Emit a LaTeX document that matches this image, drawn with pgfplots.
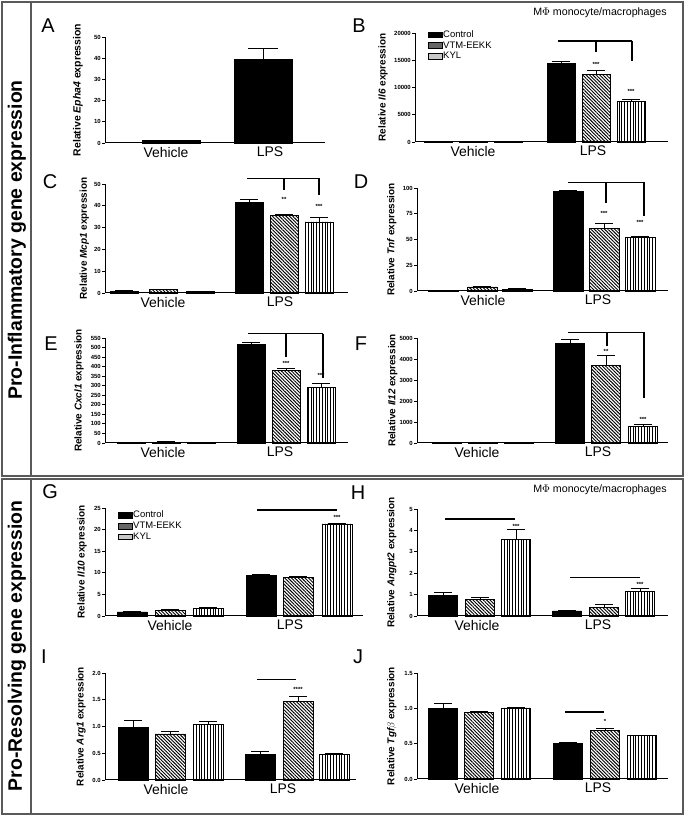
\documentclass[border=0pt]{standalone}
\usepackage{fontspec}
\setmainfont{Liberation Sans}
\usepackage{pgfplots}
\pgfplotsset{compat=1.18}
\usetikzlibrary{patterns.meta}

\pgfplotsset{
  ctrl/.style={ybar, bar shift=0pt, fill=black, draw=black, line width=0.8bp},
  vtm/.style={ybar, bar shift=0pt, draw=black, line width=0.8bp,
     pattern={Lines[angle=-45,distance=2.4bp,line width=0.95bp]}},
  kyl/.style={ybar, bar shift=0pt, draw=black, line width=0.8bp,
     pattern={Lines[angle=90,distance=2.8bp,line width=0.6bp]}},
  yl/.style={every axis y label/.style={at={(axis description cs:#1,0.5)},rotate=90,anchor=center,
     font=\fontsize{10}{11}\selectfont\bfseries}},
  prism/.style={
    scale only axis, anchor=south west, clip=false,
    axis x line*=bottom, axis y line*=left,
    axis line style={-, line width=1bp, black},
    xmin=0, ymin=0, enlargelimits=false,
    tick align=outside, major tick length=3bp,
    xtick style={draw=none}, ytick style={line width=0.9bp, black},
    yticklabel style={font=\fontsize{6}{7}\selectfont\bfseries, inner sep=1bp},
    xticklabel style={font=\fontsize{14}{15}\selectfont, inner sep=1bp},
    /pgf/number format/assume math mode=true,
    /pgf/number format/1000 sep={},
    scaled y ticks=false,
    error bars/y dir=plus, error bars/y explicit,
    error bars/error bar style={line width=0.9bp, black, solid},
    error bars/error mark options={rotate=90, line width=0.9bp, black, mark size=9bp},
    xticklabels={Vehicle,LPS},
  },
  leg/.style={legend style={at={(axis description cs:#1)}, anchor=north west, draw=none, fill=none,
     inner sep=0pt, font=\fontsize{9.5}{10}\selectfont, row sep=1.2bp,
     nodes={inner sep=0.7bp}}, legend cell align=left},
}
\tikzset{
  br/.style={line width=1.4bp, black},
  st/.style={font=\fontsize{6}{6}\selectfont\bfseries, inner sep=0pt},
  lett/.style={font=\fontsize{20}{20}\selectfont},
}

\begin{document}
\begin{tikzpicture}[x=1bp,y=1bp]
\useasboundingbox (0,0) rectangle (685,816);
% frames
\draw[black!65, line width=1.2bp] (2,340) rectangle (683,814);
\draw[black!65, line width=1.2bp] (31,340) -- (31,814);
\draw[black!65, line width=1.2bp] (2,2) rectangle (683,337);
\draw[black!65, line width=1.2bp] (31,2) -- (31,337);
\node[rotate=90, font=\fontsize{19.5}{20}\selectfont\bfseries] at (17,576) {Pro-Inflammatory gene expression};
\node[rotate=90, font=\fontsize{19.5}{20}\selectfont\bfseries] at (17,170) {Pro-Resolving gene expression};
\node[font=\fontsize{10.7}{12}\selectfont] at (600,803) {M$\Phi$ monocyte/macrophages};
\node[font=\fontsize{10.7}{12}\selectfont] at (600,326) {M$\Phi$ monocyte/macrophages};
\node[lett] at (48,790) {A};
\node[lett] at (359,790) {B};
\node[lett] at (50,634) {C};
\node[lett] at (361,634) {D};
\node[lett] at (51,472) {E};
\node[lett] at (361,472) {F};
\node[lett] at (50,324) {G};
\node[lett] at (358,323) {H};
\node[lett] at (44,159) {I};
\node[lett] at (358,159) {J};

% ---------------- A
\begin{axis}[prism, at={(105bp,673bp)}, width=220bp, height=106bp, xmax=220, ymax=50,
  ytick={0,10,...,50}, xtick={61,165}, yl=-0.123, ylabel={Relative \textit{Epha4} expression},
  ylabel style={font=\fontsize{10.5}{11}\selectfont\bfseries},
  error bars/error mark options={rotate=90, line width=0.9bp, black, mark size=15bp}]
\addplot[ctrl, bar width=58] coordinates {(66.5,1.0) +- (0,0.2) (158,39.2) +- (0,5.6)};
\end{axis}

% ---------------- B
\begin{axis}[prism, at={(415bp,674bp)}, width=253bp, height=109bp, xmax=253, ymax=20000,
  ytick={0,5000,...,20000}, xtick={58,178}, yl=-0.126, ylabel={Relative \textit{Il6} expression},
  leg={0.051,1.03}]
\addlegendimage{legend image code/.code={\draw[fill=black,draw=black] (0bp,-2.9bp) rectangle (14bp,2.9bp);}}
\addlegendentry{Control}
\addlegendimage{legend image code/.code={\draw[fill=black!60,draw=black] (0bp,-2.9bp) rectangle (14bp,2.9bp);}}
\addlegendentry{VTM-EEKK}
\addlegendimage{legend image code/.code={\draw[fill=black!22,draw=black] (0bp,-2.9bp) rectangle (14bp,2.9bp);}}
\addlegendentry{KYL}
\addplot[ctrl, bar width=28, forget plot] coordinates {(23,30) +- (0,0) (146,14340) +- (0,430)};
\addplot[vtm, bar width=28, forget plot] coordinates {(58,30) +- (0,0) (181,12310) +- (0,740)};
\addplot[kyl, bar width=28, forget plot] coordinates {(93,30) +- (0,0) (216,7390) +- (0,430)};
\draw[br] (axis cs:143,18530) -- (axis cs:217,18530);
\draw[br] (axis cs:181,18530) -- (axis cs:181,16510);
\draw[br] (axis cs:217,18530) -- (axis cs:217,14860);
\node[st] at (axis cs:181,14300) {***};
\node[st] at (axis cs:216,9350) {***};
\end{axis}

% ---------------- C
\begin{axis}[prism, at={(105bp,523bp)}, width=243bp, height=109bp, xmax=243, ymax=50,
  ytick={0,10,...,50}, xtick={58,175}, yl=-0.085, ylabel={Relative \textit{Mcp1} expression}]
\addplot[ctrl, bar width=28] coordinates {(19,0.8) +- (0,0.2) (144,41.6) +- (0,1.4)};
\addplot[vtm, bar width=28] coordinates {(58,1.5) +- (0,0.3) (179,35.4) +- (0,0.7)};
\addplot[kyl, bar width=28] coordinates {(95,0.6) +- (0,0.1) (214,32.6) +- (0,2.0)};
\draw[br] (axis cs:142,52.6) -- (axis cs:215,52.6);
\draw[br] (axis cs:179,52.6) -- (axis cs:179,47.3);
\draw[br] (axis cs:214,52.6) -- (axis cs:214,45.0);
\node[st] at (axis cs:179,43.1) {**};
\node[st] at (axis cs:214,39.8) {***};
\end{axis}

% ---------------- D
\begin{axis}[prism, at={(417bp,525bp)}, width=251bp, height=103bp, xmax=251, ymax=100,
  ytick={0,25,...,100}, xtick={66,181}, yl=-0.1, ylabel={Relative \textit{Tnf} expression}]
\addplot[ctrl, bar width=30] coordinates {(26,0.6) +- (0,0.1) (151,96.8) +- (0,0.6)};
\addplot[vtm, bar width=30] coordinates {(65,3.9) +- (0,0.6) (187,60.4) +- (0,5.5)};
\addplot[kyl, bar width=30] coordinates {(100,1.9) +- (0,0.7) (223,51.9) +- (0,1.0)};
\draw[br] (axis cs:151,105.5) -- (axis cs:227,105.5);
\draw[br] (axis cs:189,105.5) -- (axis cs:189,85.4);
\draw[br] (axis cs:227,105.5) -- (axis cs:227,72.4);
\node[st] at (axis cs:187,75.0) {***};
\node[st] at (axis cs:223,67.0) {***};
\end{axis}

% ---------------- E
\begin{axis}[prism, at={(105bp,373bp)}, width=243bp, height=105bp, xmax=243, ymax=550,
  ytick={0,50,...,550}, xtick={58,175}, yl=-0.107, ylabel={Relative \textit{Cxcl1} expression}]
\addplot[ctrl, bar width=28] coordinates {(26,3) +- (0,0.5) (146,518) +- (0,11)};
\addplot[vtm, bar width=28] coordinates {(61,5) +- (0,1) (181,380) +- (0,8)};
\addplot[kyl, bar width=28] coordinates {(96,1) +- (0,0) (216,290) +- (0,23)};
\draw[br] (axis cs:143,573) -- (axis cs:218,573);
\draw[br] (axis cs:181,573) -- (axis cs:181,453);
\draw[br] (axis cs:218,573) -- (axis cs:218,339);
\node[st] at (axis cs:181,417) {***};
\node[st] at (axis cs:216,352) {***};
\end{axis}

% ---------------- F
\begin{axis}[prism, at={(417bp,373bp)}, width=251bp, height=105bp, xmax=251, ymax=5000,
  ytick={0,1000,...,5000}, xtick={60,181}, yl=-0.096, ylabel={Relative \textit{Il12} expression}]
\addplot[ctrl, bar width=29] coordinates {(30,5) +- (0,0) (153,4746) +- (0,175)};
\addplot[vtm, bar width=29] coordinates {(66,20) +- (0,5) (189,3683) +- (0,492)};
\addplot[kyl, bar width=29] coordinates {(102,5) +- (0,0) (226,778) +- (0,127)};
\draw[br] (axis cs:151,5270) -- (axis cs:227,5270);
\draw[br] (axis cs:190,5270) -- (axis cs:190,4603);
\draw[br] (axis cs:227,5270) -- (axis cs:227,2143);
\node[st] at (axis cs:189,4360) {**};
\node[st] at (axis cs:226,1140) {***};
\end{axis}

% ---------------- G
\begin{axis}[prism, at={(105bp,200bp)}, width=258bp, height=108bp, xmax=258, ymax=25,
  ytick={0,5,...,25}, xtick={65,185}, yl=-0.089, ylabel={Relative \textit{Il10} expression},
  leg={0.05,0.98}]
\addlegendimage{legend image code/.code={\draw[fill=black,draw=black] (0bp,-2.9bp) rectangle (14bp,2.9bp);}}
\addlegendentry{Control}
\addlegendimage{legend image code/.code={\draw[fill=black!60,draw=black] (0bp,-2.9bp) rectangle (14bp,2.9bp);}}
\addlegendentry{VTM-EEKK}
\addlegendimage{legend image code/.code={\draw[fill=black!22,draw=black] (0bp,-2.9bp) rectangle (14bp,2.9bp);}}
\addlegendentry{KYL}
\addplot[ctrl, bar width=30, forget plot] coordinates {(27,0.93) +- (0,0.05) (156,9.4) +- (0,0.15)};
\addplot[vtm, bar width=30, forget plot] coordinates {(65,1.3) +- (0,0.2) (193,8.9) +- (0,0.2)};
\addplot[kyl, bar width=30, forget plot] coordinates {(103,1.7) +- (0,0.3) (232,21.3) +- (0,0.2)};
\draw[br] (axis cs:152,24.5) -- (axis cs:232,24.5);
\node[st] at (axis cs:232,22.8) {***};
\end{axis}

% ---------------- H
\begin{axis}[prism, at={(417bp,200bp)}, width=251bp, height=107bp, xmax=251, ymax=5,
  ytick={0,1,...,5}, xtick={60,181}, yl=-0.1, ylabel={Relative \textit{Angpt2} expression}]
\addplot[ctrl, bar width=29] coordinates {(26,0.97) +- (0,0.11) (150,0.235) +- (0,0.035)};
\addplot[vtm, bar width=29] coordinates {(63,0.78) +- (0,0.10) (187,0.41) +- (0,0.11)};
\addplot[kyl, bar width=29] coordinates {(99,3.56) +- (0,0.47) (223,1.13) +- (0,0.14)};
\draw[br] (axis cs:28,4.53) -- (axis cs:98,4.53);
\draw[br] (axis cs:153,1.79) -- (axis cs:223,1.79);
\node[st] at (axis cs:99,4.2) {***};
\node[st] at (axis cs:223,1.46) {***};
\end{axis}

% ---------------- I
\begin{axis}[prism, at={(105bp,36bp)}, width=251bp, height=107bp, xmax=251, ymax=2,
  ytick={0,0.5,...,2}, xtick={61,178}, yl=-0.095, ylabel={Relative \textit{Arg1} expression},
  yticklabel style={/pgf/number format/.cd, fixed, fixed zerofill, precision=1}]
\addplot[ctrl, bar width=30] coordinates {(28,0.99) +- (0,0.12) (155,0.47) +- (0,0.06)};
\addplot[vtm, bar width=30] coordinates {(65,0.86) +- (0,0.05) (193,1.46) +- (0,0.11)};
\addplot[kyl, bar width=30] coordinates {(103,1.04) +- (0,0.05) (229,0.48) +- (0,0.02)};
\draw[br] (axis cs:152,1.88) -- (axis cs:191,1.88);
\node[st] at (axis cs:193,1.70) {****};
\end{axis}

% ---------------- J
\begin{axis}[prism, at={(417bp,37bp)}, width=251bp, height=106bp, xmax=251, ymax=1.5,
  ytick={0,0.5,1,1.5}, xtick={60,181}, yl=-0.1, ylabel={Relative \textit{Tgf$\beta$} expression},
  yticklabel style={/pgf/number format/.cd, fixed, fixed zerofill, precision=1}]
\addplot[ctrl, bar width=29] coordinates {(26,0.995) +- (0,0.08) (151,0.505) +- (0,0.01)};
\addplot[vtm, bar width=29] coordinates {(62,0.943) +- (0,0.01) (188,0.689) +- (0,0.033)};
\addplot[kyl, bar width=29] coordinates {(99,1.005) +- (0,0.01) (225,0.613) +- (0,0.01)};
\draw[br] (axis cs:148,0.948) -- (axis cs:187,0.948);
\node[st] at (axis cs:188,0.81) {*};
\end{axis}
\end{tikzpicture}
\end{document}
